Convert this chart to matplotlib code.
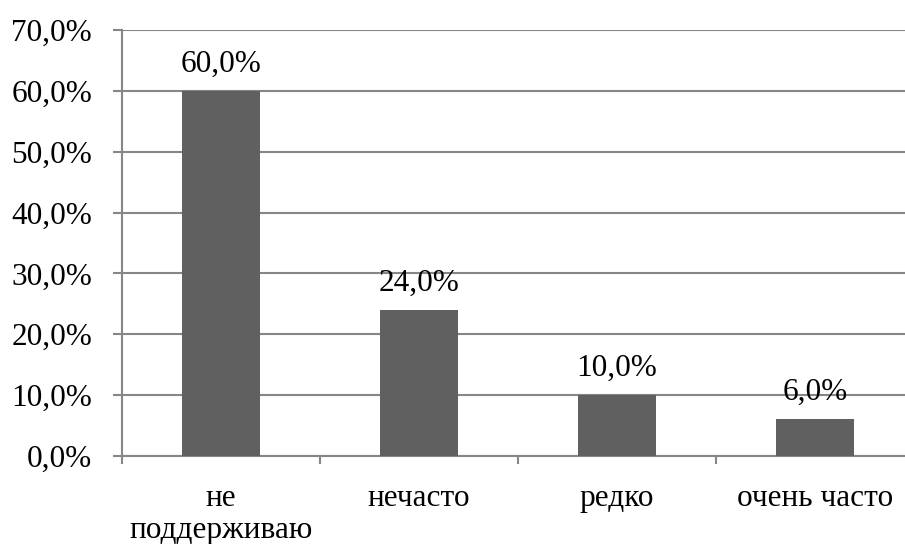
import matplotlib
matplotlib.use("Agg")
import matplotlib.pyplot as plt
from matplotlib.ticker import FuncFormatter, MultipleLocator

categories = ["не\nподдерживаю", "нечасто", "редко", "очень часто"]
values = [60.0, 24.0, 10.0, 6.0]

plt.rcParams['font.family'] = ['Liberation Serif', 'DejaVu Serif']

fig = plt.figure(figsize=(9.05, 5.44), dpi=100)
ax = fig.add_axes([122/905, 1-456/544, 792/905, 426/544])

x = list(range(len(categories)))
ax.bar(x, values, width=0.397, color='#606060', zorder=3)
for xi, v in zip(x, values):
    ax.annotate(f"{v:.1f}%".replace('.', ','), (xi, v), xytext=(0, 14),
                textcoords='offset points', ha='center', va='baseline',
                fontsize=22.5, color='black')

ax.set_xlim(-0.5, len(categories) - 0.5)
ax.set_ylim(0, 70)
ax.yaxis.set_major_locator(MultipleLocator(10))
ax.yaxis.set_major_formatter(FuncFormatter(lambda v, p: f"{v:.1f}%".replace('.', ',')))
ax.grid(axis='y', color='#868686', linewidth=1.5, zorder=0)
ax.set_axisbelow(True)

ax.set_xticks(x)
ax.set_xticklabels(categories, fontsize=22.5, linespacing=1.15)
ax.set_xticks([i - 0.5 for i in range(len(categories) + 1)], minor=True)
ax.tick_params(axis='x', which='major', length=0, pad=20)
ax.tick_params(axis='x', which='minor', length=6, width=1.5, color='#868686', direction='out')
ax.tick_params(axis='y', length=6.5, width=1.5, color='#868686', labelsize=22.5, pad=15)

for s in ['top', 'right']:
    ax.spines[s].set_visible(False)
for s in ['left', 'bottom']:
    ax.spines[s].set_color('#868686')
    ax.spines[s].set_linewidth(1.5)

fig.savefig("out.png", dpi=100)
